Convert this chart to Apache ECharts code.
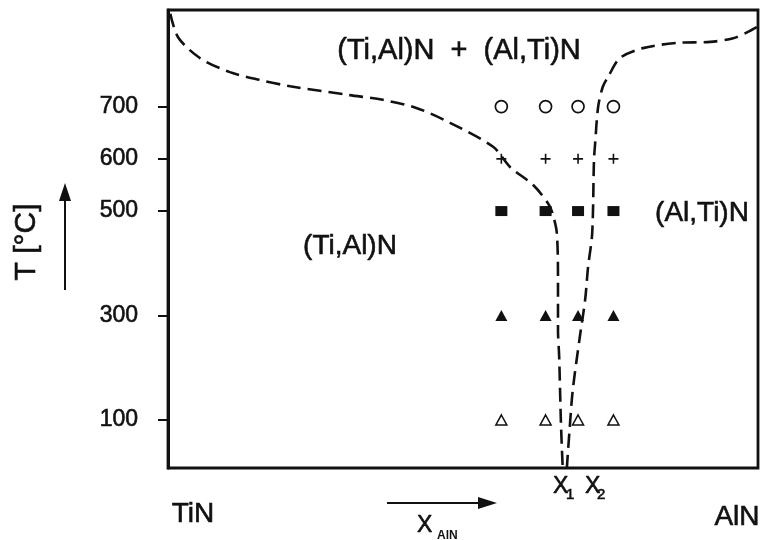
<!DOCTYPE html>
<html>
<head>
<meta charset="utf-8">
<script src="https://cdn.jsdelivr.net/npm/echarts@6/dist/echarts.min.js"></script>
<style>
  html, body { margin: 0; padding: 0; background: #fff; }
  #chart { width: 761px; height: 540px; }
</style>
</head>
<body>
<div id="chart"></div>
<script>
// Annealing temperatures (°C) and AlN mole fractions of the samples
const temperatures = [700, 600, 500, 300, 100];
const sampleX = [0.565, 0.64, 0.695, 0.755];
const tempTicks = [100, 300, 500, 600, 700];

// Phase boundary of (Ti,Al)N: [x_AlN, T]
const boundaryTiAlN = [
  [0.004, 878], [0.017, 833], [0.054, 793], [0.105, 766], [0.156, 751],
  [0.207, 739], [0.308, 722], [0.364, 713], [0.422, 697], [0.478, 669],
  [0.551, 623], [0.580, 584], [0.619, 550], [0.644, 515], [0.651, 498],
  [0.659, 458], [0.661, 362], [0.661, 272], [0.663, 221], [0.666, 94],
  [0.669, 8]
];
// Phase boundary of (Al,Ti)N: [x_AlN, T]
const boundaryAlTiN = [
  [0.998, 852], [0.983, 843], [0.958, 831], [0.919, 824], [0.863, 822],
  [0.805, 812], [0.766, 793], [0.746, 757], [0.737, 738], [0.729, 699],
  [0.724, 630], [0.722, 598], [0.719, 458], [0.712, 393], [0.707, 330],
  [0.698, 259], [0.686, 157], [0.681, 87], [0.676, 8]
];

const INK = '#111';
const plusPath = 'path://M4.2,0H5.8V4.2H10V5.8H5.8V10H4.2V5.8H0V4.2H4.2Z';

// Marker used for each temperature row
const rowStyle = {
  700: { symbol: 'circle', size: 12, fill: '#fff', border: 1.7 },
  600: { symbol: plusPath, size: 10, fill: INK, border: 0 },
  500: { symbol: 'rect', size: [12, 10], fill: INK, border: 0 },
  300: { symbol: 'triangle', size: [12, 11], fill: INK, border: 0 },
  100: { symbol: 'triangle', size: [11, 10], fill: '#fff', border: 1.5 }
};

const sampleSeries = temperatures.map(t => {
  const s = rowStyle[t];
  return {
    type: 'scatter',
    name: t + ' °C',
    symbol: s.symbol,
    symbolSize: s.size,
    itemStyle: { color: s.fill, borderColor: INK, borderWidth: s.border, opacity: 1 },
    data: sampleX.map(x => [x, t]),
    z: 5
  };
});

const dashed = { color: INK, width: 2.6, type: [14, 7] };
const lineSeries = [boundaryTiAlN, boundaryAlTiN].map(d => ({
  type: 'line',
  data: d,
  smooth: 0.3,
  showSymbol: false,
  lineStyle: dashed,
  z: 4
}));

const F = 'Liberation Sans, Arial, sans-serif';
function txt(text, x, y, size, align, extra) {
  const weight = (extra && extra.bold) ? 'bold ' : '';
  const el = {
    type: 'text',
    x: x, y: y,
    style: {
      text: text, font: weight + size + 'px ' + F, fill: INK,
      align: align || 'center', verticalAlign: 'middle',
      stroke: INK, lineWidth: weight ? 0 : 0.6
    },
    z: 10
  };
  if (extra && extra.rotation) el.rotation = extra.rotation;
  return el;
}

const chart = echarts.init(document.getElementById('chart'), null, { renderer: 'canvas' });
chart.setOption({
  backgroundColor: '#fff',
  animation: false,
  grid: {
    left: 168, right: 3, top: 10, bottom: 72,
    show: true, borderColor: INK, borderWidth: 2.8, backgroundColor: 'transparent'
  },
  xAxis: {
    type: 'value', min: 0, max: 1,
    axisLine: { show: false }, axisTick: { show: false },
    axisLabel: { show: false }, splitLine: { show: false }
  },
  yAxis: {
    type: 'value', min: 8, max: 885,
    axisLine: { show: true, lineStyle: { color: INK, width: 3 } },
    axisTick: { show: true, customValues: tempTicks, length: 10, lineStyle: { color: INK, width: 2 } },
    axisLabel: {
      show: true, customValues: tempTicks, fontSize: 23, fontFamily: F, color: INK, margin: 30,
      textBorderColor: INK, textBorderWidth: 0.6
    },
    splitLine: { show: false }
  },
  series: lineSeries.concat(sampleSeries),
  graphic: [
    txt('(Ti,Al)N  +  (Al,Ti)N', 459, 51, 29),
    txt('(Ti,Al)N', 350, 246, 28),
    txt('(Al,Ti)N', 702, 213, 28),
    txt('T [°C]', 27, 242, 30, 'center', { rotation: Math.PI / 2 }),
    txt('TiN', 193, 514, 28),
    txt('AlN', 737, 517, 28),
    // x1, x2 labels under the boundary lines
    txt('X', 553, 487, 23, 'left'),
    txt('1', 566, 495, 15, 'left'),
    txt('X', 585, 487, 23, 'left'),
    txt('2', 597, 495, 15, 'left'),
    // composition axis caption
    txt('X', 417, 526, 23, 'left'),
    txt('AlN', 437, 536, 12, 'left', { bold: true }),
    // temperature arrow
    { type: 'line', shape: { x1: 65, y1: 290, x2: 65, y2: 198 }, style: { stroke: INK, lineWidth: 2 }, z: 10 },
    { type: 'polygon', shape: { points: [[65, 183], [59, 201], [71, 201]] }, style: { fill: INK }, z: 10 },
    // composition arrow
    { type: 'line', shape: { x1: 387, y1: 503, x2: 480, y2: 503 }, style: { stroke: INK, lineWidth: 2 }, z: 10 },
    { type: 'polygon', shape: { points: [[497, 503], [478, 497], [478, 509]] }, style: { fill: INK }, z: 10 }
  ]
});
</script>
</body>
</html>
